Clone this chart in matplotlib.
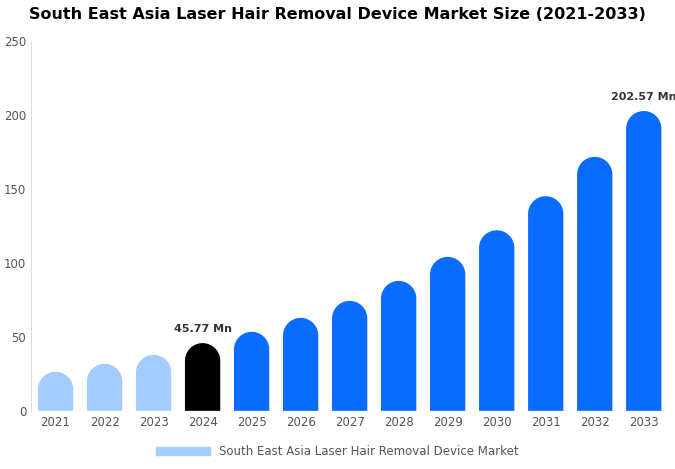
import matplotlib
matplotlib.use("Agg")
import numpy as np
import matplotlib.pyplot as plt
from matplotlib.patches import Polygon, Patch

years = ["2021","2022","2023","2024","2025","2026","2027","2028","2029","2030","2031","2032","2033"]
values = [26.4, 31.8, 37.8, 45.77, 53.4, 62.8, 74.3, 87.8, 104.0, 122.0, 145.0, 171.6, 202.57]
colors = ["#a3cdfd"]*3 + ["#000000"] + ["#0a6cff"]*9
labels = {3: "45.77 Mn", 12: "202.57 Mn"}

fig = plt.figure(figsize=(6.75, 4.69), dpi=100)
ax = fig.add_axes([0.046, 0.124, 0.944, 0.789])
ax.set_xlim(-0.5, 12.5)
ax.set_ylim(0, 250)
w = 0.72
px_x = 0.944*675/13.0
px_y = 0.789*469/250.0
r_y = (w*px_x/2)/px_y
xs = list(range(len(years)))
th = np.linspace(0, np.pi, 40)
for x, v, c in zip(xs, values, colors):
    base = v - r_y
    pts = [(x - w/2, 0)] + [(x - w/2*np.cos(t), base + r_y*np.sin(t)) for t in th] + [(x + w/2, 0)]
    ax.add_patch(Polygon(pts, closed=True, facecolor=c, edgecolor="none", zorder=2))
for i, t in labels.items():
    ax.text(i, values[i] + 6, t, ha="center", va="bottom", fontsize=8, fontweight="bold", color="#333333")
ax.set_xticks(xs)
ax.set_xticklabels(years)
ax.set_yticks([0, 50, 100, 150, 200, 250])
ax.tick_params(length=0, labelsize=8.5, colors="#555555")
for s in ["top", "right", "bottom"]:
    ax.spines[s].set_visible(False)
ax.spines["left"].set_color("#dddddd")
fig.suptitle("South East Asia Laser Hair Removal Device Market Size (2021-2033)", fontsize=11.5, fontweight="bold", y=0.985, x=0.5)
fig.legend(handles=[Patch(color="#a3cdfd", label="South East Asia Laser Hair Removal Device Market")],
           loc="lower center", bbox_to_anchor=(0.5, 0.0), frameon=False, fontsize=8.5, handlelength=4.5, labelcolor="#555555")
fig.savefig("out.png", dpi=100)
